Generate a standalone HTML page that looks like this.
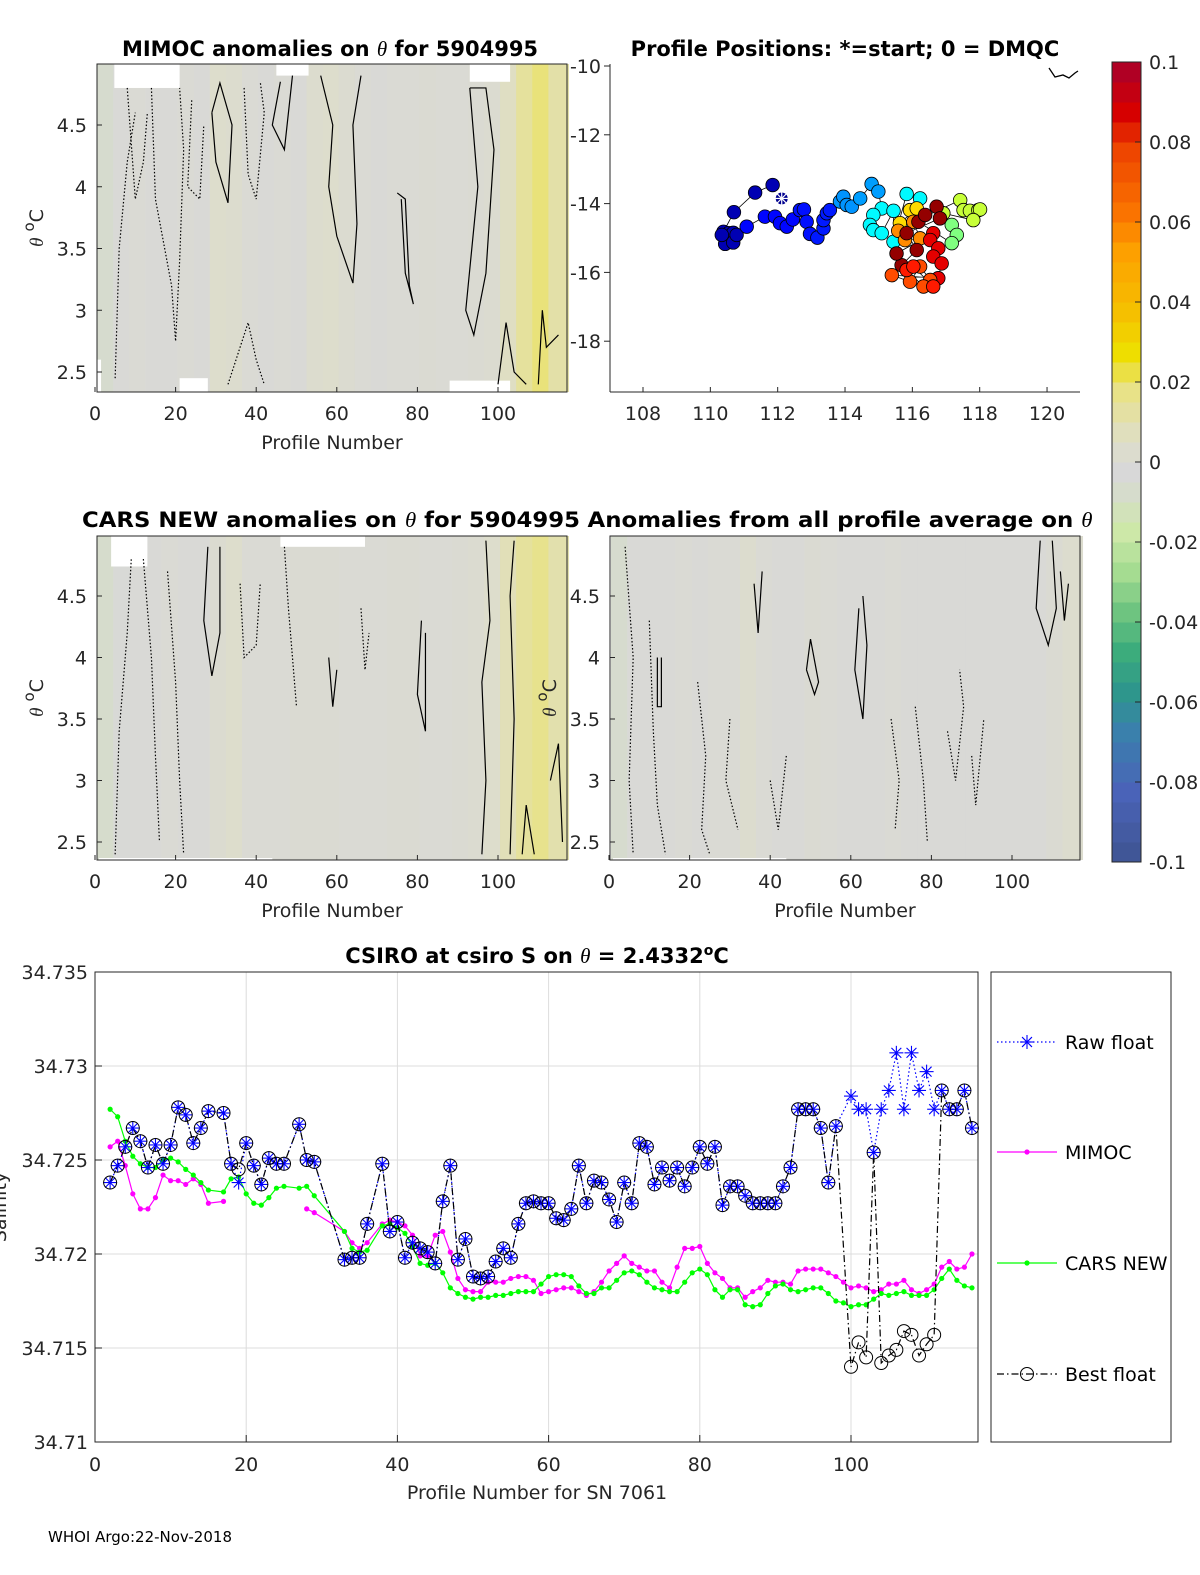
<!DOCTYPE html>
<html><head><meta charset="utf-8"><style>
html,body{margin:0;padding:0;background:#fff;overflow:hidden;width:1200px;height:1575px}
svg{display:block}
svg text{font-family:"DejaVu Sans","Liberation Sans",sans-serif;fill:#262626}
.t{font-weight:bold;fill:#000;font-size:21px}
.tk{font-size:19px}
</style></head><body>
<svg id="fig" xmlns="http://www.w3.org/2000/svg" width="1200" height="1575" viewBox="0 0 1200 1575">
<rect width="1200" height="1575" fill="#fff"/>
<g id="g1"></g>
<g id="g2"></g>
<g id="g3"></g>
<g id="g4"></g>
<g id="gcb"></g>
<g id="g5"></g>
<text class="t" x="330" y="56" text-anchor="middle">MIMOC anomalies on <tspan font-family="Liberation Serif" font-style="italic" font-weight="normal">θ</tspan>  for 5904995</text>
<text class="t" x="845" y="56" text-anchor="middle">Profile Positions: *=start; 0 = DMQC</text>
<text class="t" x="331" y="527" text-anchor="middle" textLength="498" lengthAdjust="spacingAndGlyphs">CARS NEW anomalies on <tspan font-family="Liberation Serif" font-style="italic" font-weight="normal">θ</tspan> for 5904995</text>
<text class="t" x="840" y="527" text-anchor="middle" textLength="505" lengthAdjust="spacingAndGlyphs">Anomalies from all profile average on <tspan font-family="Liberation Serif" font-style="italic" font-weight="normal">θ</tspan></text>
<text class="t" x="537" y="963" text-anchor="middle">CSIRO at csiro S on <tspan font-family="Liberation Serif" font-style="italic" font-weight="normal">θ</tspan> = 2.4332<tspan dy="-8" font-size="14">o</tspan><tspan dy="8">C</tspan></text>
<text x="48" y="1542" font-size="15" style="fill:#000">WHOI Argo:22-Nov-2018</text>
</svg>
<script>
// ---------- salinity chart data ----------
const profA=[2,3,4,5,6,7,8,9,10,11,12,13,14,15,17,18,19,20,21,22,23,24,25,27,28,29,33,34,35,36,38,39,40,41,42,43,44,45,46,47,48,49,50,51,52,53,54,55,56,57,58,59,60,61,62,63,64,65,66,67,68,69,70,71,72,73,74,75,76,77,78,79,80,81,82,83,84,85,86,87,88,89,90,91,92,93,94,95,96,97,98,100,101,102,103,104,105,106,107,108,109,110,111,112,113,114,115,116];
const rawFloat=[34.7238,34.7247,34.7257,34.7267,34.726,34.7246,34.7258,34.7248,34.7258,34.7278,34.7274,34.7259,34.7267,34.7276,34.7275,34.7248,34.7238,34.7259,34.7247,34.7237,34.7251,34.7248,34.7248,34.7269,34.725,34.7249,34.7197,34.7198,34.7198,34.7216,34.7248,34.7212,34.7217,34.7198,34.7206,34.7203,34.7201,34.7195,34.7228,34.7247,34.7197,34.7208,34.7188,34.7187,34.7188,34.7196,34.7203,34.7198,34.7216,34.7227,34.7228,34.7227,34.7227,34.7219,34.7218,34.7224,34.7247,34.7227,34.7239,34.7238,34.7229,34.7217,34.7238,34.7227,34.7259,34.7257,34.7237,34.7246,34.7239,34.7246,34.7236,34.7246,34.7257,34.7248,34.7257,34.7226,34.7236,34.7236,34.7231,34.7227,34.7227,34.7227,34.7227,34.7236,34.7246,34.7277,34.7277,34.7277,34.7267,34.7238,34.7268,34.7284,34.7277,34.7277,34.7254,34.7277,34.7287,34.7307,34.7277,34.7307,34.7287,34.7297,34.7277,34.7287,34.7277,34.7277,34.7287,34.7267];
const bestFloat=[34.7238,34.7247,34.7257,34.7267,34.726,34.7246,34.7258,34.7248,34.7258,34.7278,34.7274,34.7259,34.7267,34.7276,34.7275,34.7248,34.7245,34.7259,34.7247,34.7237,34.7251,34.7248,34.7248,34.7269,34.725,34.7249,34.7197,34.7198,34.7198,34.7216,34.7248,34.7212,34.7217,34.7198,34.7206,34.7203,34.7201,34.7195,34.7228,34.7247,34.7197,34.7208,34.7188,34.7187,34.7188,34.7196,34.7203,34.7198,34.7216,34.7227,34.7228,34.7227,34.7227,34.7219,34.7218,34.7224,34.7247,34.7227,34.7239,34.7238,34.7229,34.7217,34.7238,34.7227,34.7259,34.7257,34.7237,34.7246,34.7239,34.7246,34.7236,34.7246,34.7257,34.7248,34.7257,34.7226,34.7236,34.7236,34.7231,34.7227,34.7227,34.7227,34.7227,34.7236,34.7246,34.7277,34.7277,34.7277,34.7267,34.7238,34.7268,34.714,34.7153,34.7145,34.7254,34.7142,34.7146,34.7149,34.7159,34.7157,34.7146,34.7152,34.7157,34.7287,34.7277,34.7277,34.7287,34.7267];
const profB=[2,3,4,5,6,7,8,9,10,11,12,13,14,15,17,18,19,20,21,22,23,24,25,27,28,29,33,34,35,36,38,39,40,41,42,43,44,45,46,47,48,49,50,51,52,53,54,55,56,57,58,59,60,61,62,63,64,65,66,67,68,69,70,71,72,73,74,75,76,77,78,79,80,81,82,83,84,85,86,87,88,89,90,91,92,93,94,95,96,97,98,99,100,101,102,103,104,105,106,107,108,109,110,111,112,113,114,115,116];
const mimoc=[34.7257,34.726,34.7247,34.7232,34.7224,34.7224,34.723,34.7242,34.7239,34.7239,34.7237,34.724,34.7237,34.7227,34.7228,null,null,null,null,null,null,null,null,null,34.7224,34.7222,34.7212,34.7206,34.7203,34.7206,34.7216,34.7218,34.7217,34.7215,34.721,34.7199,34.7199,34.721,34.7212,34.7201,34.7187,34.7181,34.718,34.718,34.7185,34.7185,34.7185,34.7187,34.7188,34.7188,34.7186,34.7179,34.718,34.7181,34.7182,34.7182,34.718,34.7178,34.718,34.7185,34.7191,34.7195,34.7199,34.7195,34.7193,34.7191,34.7191,34.7185,34.7182,34.7193,34.7203,34.7203,34.7204,34.7195,34.719,34.7187,34.7182,34.7182,34.7177,34.718,34.7182,34.7186,34.7185,34.7185,34.7184,34.7191,34.7192,34.7192,34.7192,34.719,34.7188,34.7185,34.7182,34.7183,34.7182,34.718,34.7181,34.7184,34.7184,34.7186,34.7181,34.7179,34.7181,34.7184,34.7193,34.7196,34.7192,34.7193,34.72];
const carsNew=[34.7277,34.7273,34.726,34.7252,34.7248,34.7246,34.7246,34.725,34.7251,34.7249,34.7245,34.7242,34.7238,34.7234,34.7233,34.724,34.7241,34.7232,34.7227,34.7226,34.723,34.7235,34.7236,34.7235,34.7236,34.7231,34.7212,34.7203,34.7201,34.7202,34.7215,34.7216,34.7214,34.7211,34.7204,34.7195,34.7194,34.7195,34.719,34.7182,34.7179,34.7177,34.7176,34.7177,34.7177,34.7178,34.7178,34.7179,34.718,34.718,34.718,34.7184,34.7188,34.7189,34.7189,34.7188,34.7183,34.7179,34.7179,34.7182,34.7182,34.7186,34.719,34.7191,34.7189,34.7185,34.7182,34.7181,34.718,34.718,34.7185,34.719,34.7192,34.7189,34.7181,34.7177,34.7181,34.7181,34.7173,34.7172,34.7173,34.7179,34.7183,34.7184,34.7181,34.718,34.7181,34.7182,34.7182,34.7179,34.7175,34.7174,34.7172,34.7173,34.7173,34.7176,34.7179,34.7178,34.7179,34.718,34.7178,34.7178,34.7178,34.7181,34.7187,34.7192,34.7186,34.7183,34.7182];
const salYTicks=[34.71,34.715,34.72,34.725,34.73,34.735];
const salYLabels=["34.71","34.715","34.72","34.725","34.73","34.735"];
const profXTicks=[0,20,40,60,80,100];
const legendLabels=["Raw float","MIMOC","CARS NEW","Best float"];

// ---------- map data ----------
const mapLon=[111.85,111.33,110.70,110.39,110.54,110.68,110.44,110.68,110.78,110.34,111.08,111.62,111.92,112.07,112.27,112.45,112.66,112.78,112.86,112.96,113.18,113.36,113.36,113.46,113.55,113.85,113.95,114.05,114.20,114.45,114.79,114.99,115.09,114.84,114.74,114.84,115.09,115.44,115.44,115.83,116.23,115.93,116.13,115.63,115.58,115.78,116.23,116.03,117.42,117.52,117.71,117.96,118.01,117.81,116.92,117.17,117.32,117.17,116.18,116.38,116.72,116.82,115.83,116.13,115.68,115.53,116.62,116.53,116.77,116.62,116.87,116.77,115.39,115.93,116.23,116.53,116.33,115.83,116.03,116.62];
const mapLat=[-13.46,-13.68,-14.25,-14.82,-14.86,-14.85,-15.17,-15.13,-14.91,-14.91,-14.67,-14.38,-14.38,-14.57,-14.67,-14.46,-14.19,-14.17,-14.53,-14.88,-14.99,-14.72,-14.48,-14.28,-14.19,-13.94,-13.80,-14.04,-14.09,-13.85,-13.43,-13.65,-14.14,-14.33,-14.62,-14.77,-14.86,-14.21,-15.11,-13.72,-13.85,-14.19,-14.14,-14.57,-14.79,-15.06,-15.01,-14.53,-13.90,-14.19,-14.21,-14.19,-14.17,-14.48,-14.28,-14.62,-14.91,-15.15,-14.53,-14.33,-14.09,-14.43,-14.86,-15.35,-15.79,-15.45,-14.86,-15.06,-15.30,-15.54,-15.74,-16.17,-16.08,-16.27,-15.83,-16.22,-16.41,-15.93,-15.83,-16.41];
const mapJet=[0.05,0.05,0.05,0.05,0.05,0.05,0.05,0.05,0.05,0.05,0.13,0.13,0.13,0.13,0.13,0.13,0.14,0.14,0.14,0.14,0.15,0.15,0.15,0.15,0.15,0.27,0.27,0.27,0.27,0.28,0.28,0.28,0.37,0.37,0.37,0.37,0.37,0.37,0.37,0.37,0.37,0.66,0.66,0.66,0.74,0.74,0.74,0.74,0.57,0.57,0.57,0.57,0.57,0.57,0.57,0.5,0.5,0.5,0.98,0.98,0.98,0.98,0.98,0.98,0.98,0.98,0.9,0.9,0.9,0.9,0.9,0.9,0.8,0.8,0.8,0.8,0.8,0.85,0.85,0.85];
const startLon=112.12, startLat=-13.85;
const lonTicks=[108,110,112,114,116,118,120];
const latTicks=[-10,-12,-14,-16,-18];

// ---------- heatmap data (column anomalies, 4-profile bins) ----------
const binEdges=[0,4,8,12,16,20,24,28,32,36,40,44,48,52,56,60,64,68,72,76,80,84,88,92,96,100,104,108,112,117];
const anomMimoc=[-0.004,0.001,0.002,0.001,0.001,0.002,0.001,0.006,0.005,0.002,0.001,0.002,0.001,0.005,0.006,0.004,0.002,0.001,0.002,0.002,0.003,0.002,0.002,0.003,0.004,0.009,0.016,0.021,0.014];
const anomCars=[-0.005,-0.001,0.001,0.001,0.002,0.001,0.001,0.004,0.006,0.002,0.002,0.002,0.003,0.003,0.003,0.002,0.002,0.002,0.003,0.003,0.002,0.002,0.003,0.004,0.006,0.011,0.016,0.019,0.013];
const anomAll=[-0.004,0.001,0.001,0.001,0.002,0.001,0.002,0.002,0.005,0.002,0.001,0.001,0.003,0.002,0.001,0.001,0.001,0.002,0.001,0.001,0.001,0.001,0.001,0.001,0.001,0.001,0.001,0.003,0.005];
const thetaTicks=[2.5,3,3.5,4,4.5];
const cbTicks=[0.1,0.08,0.06,0.04,0.02,0,-0.02,-0.04,-0.06,-0.08,-0.1];

const NS='http://www.w3.org/2000/svg';
function mk(parent,tag,attrs,txt){const e=document.createElementNS(NS,tag);for(const k in attrs)e.setAttribute(k,attrs[k]);if(txt!==undefined)e.textContent=txt;parent.appendChild(e);return e;}

const cmStops=[[-0.1,[61,82,140]],[-0.08,[74,99,184]],[-0.065,[58,128,172]],[-0.055,[46,150,140]],[-0.045,[60,172,124]],[-0.035,[110,196,128]],[-0.025,[165,220,145]],[-0.015,[205,232,168]],[-0.005,[214,220,204]],[0,[216,216,216]],[0.008,[222,222,200]],[0.02,[232,226,136]],[0.03,[238,222,0]],[0.04,[245,192,0]],[0.055,[253,160,0]],[0.065,[250,115,0]],[0.08,[238,70,0]],[0.09,[214,0,0]],[0.1,[176,0,36]]];
function cmapRaw(v){v=Math.max(-0.1,Math.min(0.1,v));
 for(let i=0;i<cmStops.length-1;i++){const a=cmStops[i],b=cmStops[i+1];if(v>=a[0]-1e-9&&v<=b[0]+1e-9){const t=(v-a[0])/(b[0]-a[0]);return 'rgb('+a[1].map((c,j)=>Math.round(c+(b[1][j]-c)*t)).join(',')+')';}}
 return '#d8d8d8';}
function cmap(v){return cmapRaw(Math.round(v/0.005)*0.005);}
function jet(t){const r=Math.min(4*t-1.5,-4*t+4.5),g=Math.min(4*t-0.5,-4*t+3.5),b=Math.min(4*t+0.5,-4*t+2.5);const c=x=>Math.round(255*Math.max(0,Math.min(1,x)));return 'rgb('+c(r)+','+c(g)+','+c(b)+')';}

function heatPanel(g,box,anom,contours){
 const xs=p=>box.x0+p*4.03, ys=t=>box.yRef-(t-4.5)*box.k;
 anom.forEach((v,i)=>{const r=mk(g,'rect',{x:xs(binEdges[i]+0.5),y:box.top,width:xs(binEdges[i+1]+0.5)-xs(binEdges[i]+0.5)+0.5,height:box.bot-box.top,fill:cmapRaw(v)});
  
  });
 (box.gaps||[]).forEach(gp=>{const r=mk(g,'rect',{x:xs(gp[0]),y:ys(gp[3]),width:xs(gp[1])-xs(gp[0]),height:ys(gp[2])-ys(gp[3]),fill:'#fff'});
  
  });
 contours.forEach(c=>{const pts=c.pts.map(q=>xs(q[0])+','+ys(q[1])).join(' ');
  const l=mk(g,'polyline',{points:pts,fill:'none',stroke:'#000','stroke-width':1.2,'stroke-dasharray':c.dot?'1.5 2':'none'});
  
  });
 mk(g,'rect',{x:box.left,y:box.top,width:box.right-box.left,height:box.bot-box.top,fill:'none',stroke:'#262626','stroke-width':1});
 profXTicks.forEach(t=>{const x=xs(t);mk(g,'line',{x1:x,x2:x,y1:box.bot,y2:box.bot-5,stroke:'#262626'});
  const tx=mk(g,'text',{x:x,y:box.bot+28,'text-anchor':'middle',class:'tk'},String(t));
  
  });
 thetaTicks.forEach(t=>{const y=ys(t);mk(g,'line',{x1:box.left,x2:box.left+5,y1:y,y2:y,stroke:'#262626'});
  const tx=mk(g,'text',{x:box.left-10,y:y+7,'text-anchor':'end',class:'tk'},String(t));
  
  });
 const yl=mk(g,'text',{transform:'translate('+(box.left-54)+','+((box.top+box.bot)/2)+') rotate(-90)','text-anchor':'middle',class:'tk','font-size':21});
 yl.innerHTML='<tspan font-family="Liberation Serif" font-style="italic">θ</tspan> <tspan dy="-9" font-size="15">o</tspan><tspan dy="9">C</tspan>';
 
 
 const xl=mk(g,'text',{x:(box.left+box.right)/2,y:box.bot+57,'text-anchor':'middle',class:'tk','font-size':21},'Profile Number');
 
 
}
const contMimoc=[{pts:[[56,4.9],[59,4.5],[58,4.0],[60,3.6],[64,3.22],[65,3.7],[64,4.5],[66,4.9]]},{pts:[[93,4.8],[95,4.0],[92,3.0],[94,2.8],[97,3.3],[99,4.3],[97,4.8],[93,4.8]]},{pts:[[29,4.6],[31,4.84],[34,4.5],[33,3.87],[30,4.2],[29,4.6]]},{pts:[[75,3.95],[77,3.9],[78,3.2],[79,3.05],[77,3.3],[76,3.9]]},{pts:[[46,4.85],[44,4.5],[47,4.3],[49,4.9]]},{pts:[[100,2.4],[102,2.9],[104,2.5],[107,2.4]]},{pts:[[110,2.4],[111,3.0],[112,2.7],[115,2.8]]},{dot:true,pts:[[5,2.45],[6,3.5],[8,4.2],[10,4.6]]},{dot:true,pts:[[14,4.8],[15,3.9],[19,3.2],[20,2.75],[21,3.4],[22,4.3],[21,4.8]]},{dot:true,pts:[[8,4.8],[10,3.9],[12,4.2],[13,4.6]]},{dot:true,pts:[[33,2.4],[36,2.7],[38,2.9],[40,2.6],[42,2.4]]},{dot:true,pts:[[24,4.7],[23,4.0],[26,3.9],[27,4.5]]},{dot:true,pts:[[37,4.8],[38,4.1],[40,3.9],[42,4.6],[41,4.85]]}];
const contCars=[{pts:[[97,4.95],[98,4.3],[96,3.8],[97,3.0],[96,2.4]]},{pts:[[103,2.4],[104,3.5],[103,4.5],[104,4.95]]},{pts:[[28,4.9],[27,4.3],[29,3.85],[31,4.2],[31,4.9]]},{pts:[[81,4.3],[80,3.7],[82,3.4],[82,4.2]]},{pts:[[106,2.4],[107,2.8],[109,2.4]]},{pts:[[113,3.0],[115,3.3],[116,2.5]]},{pts:[[58,4.0],[59,3.6],[60,3.9]]},{dot:true,pts:[[5,2.4],[6,3.4],[8,4.2],[9,4.8]]},{dot:true,pts:[[12,4.8],[14,4.0],[15,3.2],[16,2.5]]},{dot:true,pts:[[18,4.7],[20,3.8],[21,3.0],[22,2.4]]},{dot:true,pts:[[36,4.6],[37,4.0],[40,4.1],[41,4.6]]},{dot:true,pts:[[47,4.9],[48,4.4],[50,3.6]]},{dot:true,pts:[[66,4.4],[67,3.9],[68,4.2]]}];
const contAll=[{pts:[[62,4.4],[61,3.9],[63,3.5],[64,4.1],[63,4.5]]},{pts:[[49,3.9],[50,4.15],[52,3.8],[51,3.7],[49,3.9]]},{pts:[[107,4.95],[106,4.4],[109,4.1],[111,4.4],[110,4.95]]},{pts:[[112,4.7],[113,4.3],[114,4.6]]},{pts:[[36,4.6],[37,4.2],[38,4.7]]},{pts:[[12,4.0],[12,3.6],[13,3.6],[13,4.0]]},{dot:true,pts:[[4,4.9],[6,4.0],[5,3.0],[6,2.4]]},{dot:true,pts:[[10,4.3],[11,3.4],[12,2.8],[14,2.4]]},{dot:true,pts:[[22,3.8],[24,3.2],[23,2.6],[25,2.4]]},{dot:true,pts:[[30,3.5],[29,3.0],[32,2.6]]},{dot:true,pts:[[76,3.6],[78,3.0],[79,2.5]]},{dot:true,pts:[[84,3.4],[86,3.0],[88,3.6],[87,3.9]]},{dot:true,pts:[[90,3.2],[91,2.8],[93,3.5]]},{dot:true,pts:[[70,3.5],[72,3.0],[71,2.6]]},{dot:true,pts:[[40,3.0],[42,2.6],[44,3.2]]}];
heatPanel(document.getElementById('g1'),{x0:95,left:97,right:567,top:64,bot:392,yRef:125,k:123.5,gaps:[[4.8,21,4.8,5.0],[45,53,4.9,5.0],[93,103,4.85,5.0],[0.5,1.5,2.3,2.6],[21,28,2.3,2.45],[88,103,2.3,2.43]]},anomMimoc,contMimoc);
heatPanel(document.getElementById('g3'),{x0:95,left:97,right:567,top:536,bot:860,yRef:596,k:123,gaps:[[4,13,4.74,5.0],[46,67,4.9,5.0],[1,44,2.33,2.37]]},anomCars,contCars);
heatPanel(document.getElementById('g4'),{x0:609,left:610,right:1080,top:536,bot:860,yRef:596,k:123,gaps:[[1,44,2.33,2.37]]},anomAll,contAll);

// ---------- map ----------
(function(){const g=document.getElementById('g2');
 const L=610,R=1080,T=64,B=392;const xl=v=>643+(v-108)*33.67, yl=v=>66+(-10-v)*34.4;
 mk(g,'line',{x1:L,x2:R,y1:B,y2:B,stroke:'#262626'});mk(g,'line',{x1:L,x2:L,y1:T,y2:B,stroke:'#262626'});
 mk(g,'path',{d:'M1049,68 l6,9 l8,-2 l6,3 l6,-5 l3,-2',fill:'none',stroke:'#000','stroke-width':1.3});
 lonTicks.forEach(t=>{const x=xl(t);mk(g,'line',{x1:x,x2:x,y1:B,y2:B-5,stroke:'#262626'});
  const tx=mk(g,'text',{x:x,y:B+28,'text-anchor':'middle',class:'tk'},String(t));
  
  });
 latTicks.forEach(t=>{const y=yl(t);mk(g,'line',{x1:L-6,x2:L,y1:y,y2:y,stroke:'#262626'});
  const tx=mk(g,'text',{x:601,y:y+7,'text-anchor':'end',class:'tk'},String(t));
  
  });
 mk(g,'polyline',{points:mapLon.map((v,i)=>xl(v)+','+yl(mapLat[i])).join(' '),fill:'none',stroke:'#000','stroke-width':0.8});
 mapLon.forEach((v,i)=>{const c=mk(g,'circle',{cx:xl(v),cy:yl(mapLat[i]),r:6.8,fill:jet(mapJet[i]),stroke:'#000','stroke-width':0.8});
  
  });
 const sx=xl(startLon),sy=yl(startLat);const st=mk(g,'g',{});
 
 
 mk(st,'circle',{cx:sx,cy:sy,r:6,fill:'#00008f'});
 [0,45,90,135].forEach(a=>{const r=a*Math.PI/180;mk(st,'line',{x1:sx-7*Math.cos(r),y1:sy-7*Math.sin(r),x2:sx+7*Math.cos(r),y2:sy+7*Math.sin(r),stroke:'#fff','stroke-width':1.2});});
})();

// ---------- colorbar ----------
(function(){const g=document.getElementById('gcb');const X=1112,W=29,yv=v=>462-v*4000;
 for(let v=-0.1;v<0.0999;v+=0.005){const r=mk(g,'rect',{x:X,y:yv(v+0.005),width:W,height:20.5,fill:cmap(v+0.0025)});
  
  }
 mk(g,'rect',{x:X,y:62,width:W,height:800,fill:'none',stroke:'#262626'});
 cbTicks.forEach(t=>{const y=yv(t);mk(g,'line',{x1:X+W-6,x2:X+W,y1:y,y2:y,stroke:'#262626'});
  const tx=mk(g,'text',{x:1149,y:y+7,class:'tk','font-size':18},String(t));
  
  });
})();

// ---------- salinity chart ----------
(function(){const g=document.getElementById('g5');const L=95,R=978,T=972,B=1442;
 const xs=p=>95+p*7.56, ys=v=>1442-(v-34.71)*18800;
 mk(g,'rect',{x:L,y:T,width:R-L,height:B-T,fill:'#fff'});
 profXTicks.forEach(t=>{const x=xs(t);mk(g,'line',{x1:x,x2:x,y1:T,y2:B,stroke:'#dcdcdc'});
  mk(g,'line',{x1:x,x2:x,y1:B,y2:B-7,stroke:'#262626'});
  const tx=mk(g,'text',{x:x,y:1471,'text-anchor':'middle',class:'tk'},String(t));
  
  });
 salYTicks.forEach((t,i)=>{const y=ys(t);mk(g,'line',{x1:L,x2:R,y1:y,y2:y,stroke:'#dcdcdc'});
  mk(g,'line',{x1:L,x2:L+7,y1:y,y2:y,stroke:'#262626'});
  const tx=mk(g,'text',{x:88,y:y+7,'text-anchor':'end',class:'tk'},salYLabels[i]);
  
  });
 mk(g,'rect',{x:L,y:T,width:R-L,height:B-T,fill:'none',stroke:'#262626'});
 const xt=mk(g,'text',{x:537,y:1499,'text-anchor':'middle',class:'tk','font-size':21},'Profile Number for SN 7061');
 
 
 const yt=mk(g,'text',{transform:'translate(6,1207) rotate(-90)','text-anchor':'middle',class:'tk','font-size':21},'Salinity');
 
 
 function line(prof,vals,stroke,dash,w,name){let seg=[];const segs=[];
  prof.forEach((p,i)=>{if(i>=vals.length)return;const v=vals[i];if(v===null){if(seg.length)segs.push(seg);seg=[];}else seg.push(xs(p)+','+ys(v));});
  if(seg.length)segs.push(seg);
  segs.forEach(s=>{const l=mk(g,'polyline',{points:s.join(' '),fill:'none',stroke:stroke,'stroke-width':w,'stroke-dasharray':dash});
   
   });}
 function dots(prof,vals,fill,name){prof.forEach((p,i)=>{if(i>=vals.length||vals[i]===null)return;
  const c=mk(g,'circle',{cx:xs(p),cy:ys(vals[i]),r:2.6,fill:fill});
  
  });}
 function star(x,y,parent){[0,45,90,135].forEach(a=>{const r=a*Math.PI/180;mk(parent,'line',{x1:x-7*Math.cos(r),y1:y-7*Math.sin(r),x2:x+7*Math.cos(r),y2:y+7*Math.sin(r),stroke:'#0000ff','stroke-width':1.1});});}
 line(profB,mimoc,'#ff00ff','none',1.2,'mimoc-line');dots(profB,mimoc,'#ff00ff','mimoc-point');
 line(profB,carsNew,'#00ff00','none',1.2,'cars-new-line');dots(profB,carsNew,'#00ff00','cars-new-point');
 line(profA,rawFloat,'#0000ff','1.5 2.5',1.2,'raw-float-line');
 line(profA,bestFloat,'#000','7 3 1.5 3',1.2,'best-float-line');
 profA.forEach((p,i)=>{if(i>=rawFloat.length)return;const s=mk(g,'g',{});
  
  
  star(xs(p),ys(rawFloat[i]),s);});
 profA.forEach((p,i)=>{if(i>=bestFloat.length)return;const c=mk(g,'circle',{cx:xs(p),cy:ys(bestFloat[i]),r:6.5,fill:'none',stroke:'#000','stroke-width':1});
  
  });
 const lg=mk(g,'g',{});
 
 
 mk(lg,'rect',{x:991,y:972,width:180,height:470,fill:'#fff',stroke:'#262626'});
 const ly=[1042,1152,1263,1374];
 const styles=[['#0000ff','1.5 2.5'],['#ff00ff','none'],['#00ff00','none'],['#000','7 3 1.5 3']];
 legendLabels.forEach((lab,i)=>{const e=mk(lg,'g',{});
  
  
  mk(e,'line',{x1:997,x2:1057,y1:ly[i],y2:ly[i],stroke:styles[i][0],'stroke-width':1.2,'stroke-dasharray':styles[i][1]});
  if(i===0)star(1027,ly[i],e);
  else if(i===3)mk(e,'circle',{cx:1027,cy:ly[i],r:6.5,fill:'none',stroke:'#000'});
  else mk(e,'circle',{cx:1027,cy:ly[i],r:2.6,fill:styles[i][0]});
  mk(e,'text',{x:1065,y:ly[i]+7,class:'tk','font-size':18,style:'fill:#000'},lab);});
})();
</script>
</body></html>
